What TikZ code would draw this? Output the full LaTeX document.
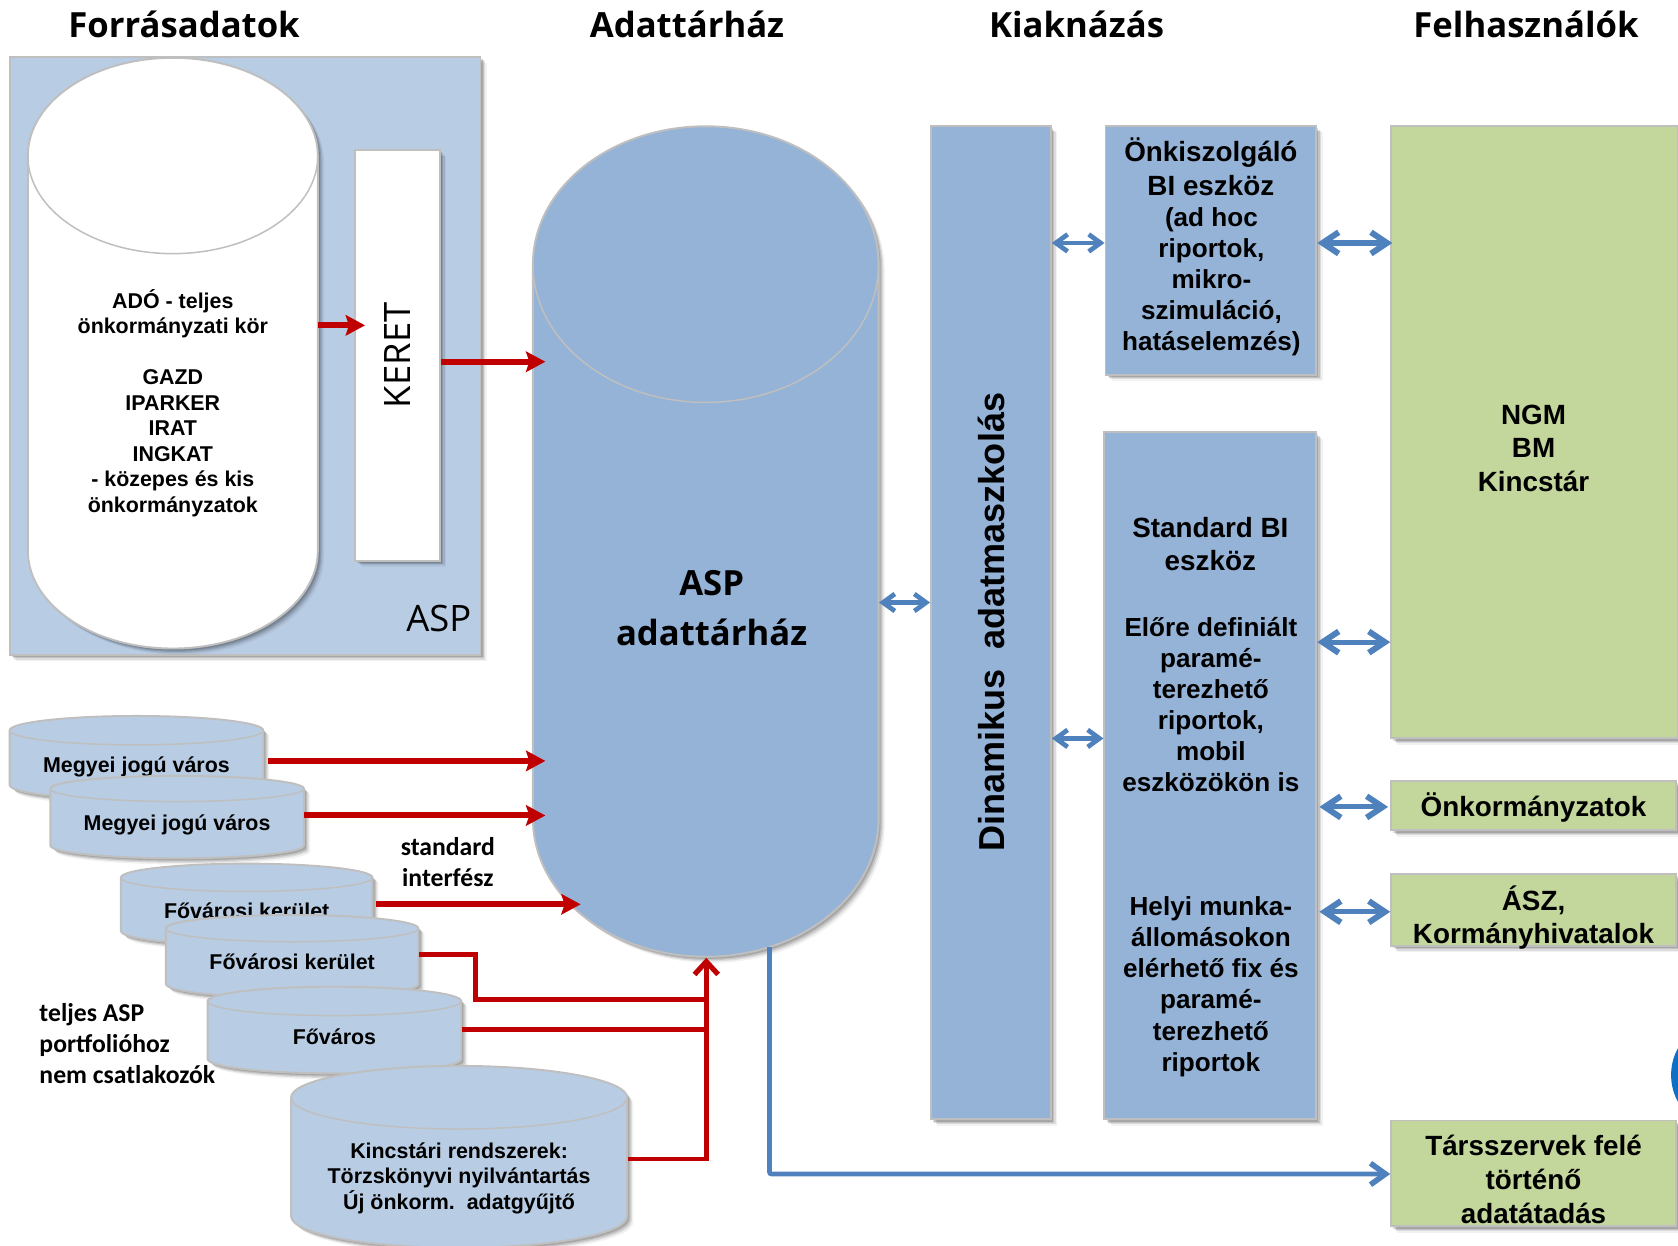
\documentclass[tikz,border=0pt]{standalone}
\usepackage{fontspec}
\setmainfont{Liberation Sans}
\newfontfamily\headfont{Open Sans}
\newfontfamily\calfont{Carlito}
\usetikzlibrary{arrows.meta,calc}
\definecolor{lightfill}{HTML}{B8CCE4}
\definecolor{midfill}{HTML}{95B3D7}
\definecolor{greenfill}{HTML}{C3D69B}
\definecolor{edgegray}{HTML}{BFBFBF}
\definecolor{redline}{HTML}{C00000}
\definecolor{blueline}{HTML}{4F81BD}
\definecolor{spotblue}{HTML}{0F6FC6}
\tikzset{
  softshadow/.style={
    preaction={draw=none,fill=black,opacity=.14,transform canvas={shift={(1pt,-1pt)}}},
    preaction={draw=none,fill=black,opacity=.12,transform canvas={shift={(1.6pt,-1.6pt)}}},
    preaction={draw=none,fill=black,opacity=.09,transform canvas={shift={(2.2pt,-2.2pt)}}},
    preaction={draw=none,fill=black,opacity=.05,transform canvas={shift={(2.9pt,-2.9pt)}}}},
  boxed/.style={draw=edgegray,line width=.9pt,softshadow,inner sep=0pt,align=center},
  lightbox/.style={boxed,fill=lightfill},
  midbox/.style={boxed,fill=midfill},
  greenbox/.style={boxed,fill=greenfill},
  whitebox/.style={boxed,fill=white},
  heading/.style={font=\headfont\fontsize{16.2}{19}\bfseries,inner sep=0pt},
  bodytext/.style={font=\fontsize{13}{16}\bfseries,align=center,inner sep=0pt},
  greentext/.style={font=\fontsize{13}{15.7}\bfseries,align=center,inner sep=0pt},
  reptext/.style={font=\fontsize{12.2}{14.5}\bfseries,align=center,inner sep=0pt},
  cyltext/.style={font=\fontsize{10}{11.9}\bfseries,align=center,inner sep=0pt},
  sidenote/.style={font=\calfont\fontsize{12}{14.5}\bfseries,align=left,inner sep=0pt},
  thintext/.style={font=\headfont\fontsize{17}{20}\selectfont,inner sep=0pt},
  redarrow/.style={draw=redline,line width=2.8pt,-{Stealth[inset=1.5pt,length=9pt,width=9.5pt]}},
  redjoin/.style={draw=redline,line width=2.2pt},
  redup/.style={draw=redline,line width=2.2pt,-{Straight Barb[length=6pt,width=11pt,line width=2.4pt]}},
  bluethin/.style={draw=blueline,line width=2pt,{Straight Barb[length=5.5pt,width=8pt,line width=2.2pt]}-{Straight Barb[length=5.5pt,width=8pt,line width=2.2pt]}},
  bluethick/.style={draw=blueline,line width=2.4pt,{Straight Barb[length=7.5pt,width=10pt,line width=2.8pt]}-{Straight Barb[length=7.5pt,width=10pt,line width=2.8pt]}},
  blueone/.style={draw=blueline,line width=2.2pt,-{Straight Barb[length=7pt,width=10pt,line width=2.6pt]},rounded corners=1pt},
}
% name, x1, x2, ytop, y ellipse bottom, ybot, fill, text y, text
\newcommand{\drumshape}[9]{%
  \pgfmathsetmacro{\drumXc}{(#2+#3)/2}%
  \pgfmathsetmacro{\drumRx}{(#3-#2)/2}%
  \pgfmathsetmacro{\drumRy}{(#5-#4)/2}%
  \pgfmathsetmacro{\drumYc}{#4+\drumRy}%
  \pgfmathsetmacro{\drumYb}{#6-\drumRy}%
  \pgfmathsetmacro{\drumKx}{.5523*\drumRx}%
  \pgfmathsetmacro{\drumKy}{.5523*\drumRy}%
  \pgfmathsetmacro{\drumWidth}{(#3-#2)*.5}%
  \path[draw=edgegray,line width=.9pt,fill=#7,softshadow]
    (#2,\drumYc) .. controls (#2,\drumYc-\drumKy) and (\drumXc-\drumKx,#4) .. (\drumXc,#4)
    .. controls (\drumXc+\drumKx,#4) and (#3,\drumYc-\drumKy) .. (#3,\drumYc)
    -- (#3,\drumYb) .. controls (#3,\drumYb+\drumKy) and (\drumXc+\drumKx,#6) .. (\drumXc,#6)
    .. controls (\drumXc-\drumKx,#6) and (#2,\drumYb+\drumKy) .. (#2,\drumYb) -- cycle;
  \path[draw=edgegray,line width=.7pt]
    (#2,\drumYc) .. controls (#2,\drumYc+\drumKy) and (\drumXc-\drumKx,#5) .. (\drumXc,#5)
    .. controls (\drumXc+\drumKx,#5) and (#3,\drumYc+\drumKy) .. (#3,\drumYc);
  \node[cyltext,minimum width=\drumWidth pt] (#1) at (\drumXc,#8) {#9};%
}
\begin{document}
\begin{tikzpicture}[x=.5pt,y=-.5pt]
\useasboundingbox (0,0) rectangle (1568,1164.2);
\clip (0,0) rectangle (1568,1164.2);

% headings
\node[heading] (h1) at (172,23) {Forrásadatok};
\node[heading] (h2) at (642,23) {Adattárház};
\node[heading] (h3) at (1006,23) {Kiaknázás};
\node[heading] (h4) at (1426,23) {Felhasználók};

% ASP group
\node[lightbox,minimum width=220pt,minimum height=279.5pt] (aspbox) at (229,332.5) {};
\node[thintext] (asplabel) at (410,578) {ASP};
\drumshape{srcdb}{26}{297}{54}{237}{606}{white}{376.5}{ADÓ - teljes\\önkormányzati kör\\[11.9pt]GAZD\\IPARKER\\IRAT\\INGKAT\\- közepes és kis\\önkormányzatok}
\node[whitebox,minimum width=39.5pt,minimum height=192pt] (keret) at (371.5,332) {};
\node[thintext,rotate=90] (kerettext) at (371.5,332) {KERET};

% big cylinder
\drumshape{dwh}{498}{821}{118}{376}{894}{midfill}{568}{}
\node[heading,align=center,font=\headfont\fontsize{16.2}{23.5}\bfseries] (dwhtext) at (665,568) {ASP\\adattárház};

% source drums
\drumshape{m1}{9}{246}{669}{696}{747}{lightfill}{717}{Megyei jogú város}
\drumshape{m2}{47}{284}{725}{749}{802}{lightfill}{771}{Megyei jogú város}
\drumshape{f1}{113}{348}{807}{833}{883}{lightfill}{851}{Fővárosi kerület}
\drumshape{f2}{155}{391}{855}{880}{932}{lightfill}{899}{Fővárosi kerület}
\drumshape{fv}{194}{431}{922}{949}{1003}{lightfill}{969}{Főváros}
\drumshape{kr}{272}{586}{996}{1055}{1166}{lightfill}{1101}{Kincstári rendszerek:\\Törzskönyvi nyilvántartás\\Új önkorm.\ \ adatgyűjtő}

\node[sidenote,align=center] (stdnote) at (418.5,805.5) {standard\\interfész};
\node[sidenote,anchor=west] (nonote) at (36.5,975) {teljes ASP\\portfolióhoz\\nem csatlakozók};

% middle column
\node[midbox,minimum width=56pt,minimum height=464pt] (mask) at (926,582) {};
\node[font=\fontsize{16.85}{20}\bfseries,rotate=90,inner sep=0pt] (masktext) at (926,581.5) {Dinamikus\ \ adatmaszkolás};

\node[midbox,minimum width=98.5pt,minimum height=116pt] (self) at (1131.5,234) {};
\node[bodytext] (selftextA) at (1131.5,155.5) {Önkiszolgáló\\BI eszköz};
\node[reptext] (selftextB) at (1132,263) {(ad hoc\\riportok,\\mikro-\\szimuláció,\\hatáselemzés)};

\node[midbox,minimum width=99pt,minimum height=321pt] (std) at (1131,725) {};
\node[bodytext,font=\fontsize{13}{15.5}\bfseries] (stdA) at (1131,508.5) {Standard BI\\eszköz};
\node[reptext] (stdB) at (1131.5,658.5) {Előre definiált\\paramé-\\terezhető\\riportok,\\mobil\\eszközökön is};
\node[reptext] (stdC) at (1131.5,922) {Helyi munka-\\állomásokon\\elérhető fix és\\paramé-\\terezhető\\riportok};

% users
\node[greenbox,minimum width=134pt,minimum height=286pt] (ngm) at (1434,404) {};
\node[bodytext,font=\fontsize{13}{15.5}\bfseries] (ngmtext) at (1433,419) {NGM\\BM\\Kincstár};
\node[greenbox,minimum width=133pt,minimum height=23pt] (onk) at (1433,753) {};
\node[greentext] (onktext) at (1433,755) {Önkormányzatok};
\node[greenbox,minimum width=133pt,minimum height=33.5pt] (asz) at (1433,850.5) {};
\node[greentext] (asztext) at (1433,857.5) {ÁSZ,\\Kormányhivatalok};
\node[greenbox,minimum width=133pt,minimum height=49.5pt] (tars) at (1433,1096.5) {};
\node[greentext] (tarstext) at (1433,1102) {Társszervek felé\\történő\\adatátadás};
\fill[spotblue] (1613.5,1004.5) circle[radius=26pt];

% red connectors
\draw[redarrow] (srcdb.east |- 0,304) -- ([xshift=5pt]keret.west |- 0,304);
\draw[redarrow] (keret.east |- 0,338) -- ([xshift=6pt]dwh.west |- 0,338);
\draw[redarrow] ([xshift=2pt]m1.east |- 0,711) -- ([xshift=6pt]dwh.west |- 0,711);
\draw[redarrow] (m2.east |- 0,762) -- ([xshift=6pt]dwh.west |- 0,762);
\draw[redarrow] ([xshift=1.5pt]f1.east |- 0,845) -- ([xshift=22.5pt]dwh.west |- 0,845);
\coordinate (dwhbottom) at (660,895);
\draw[redjoin] (f2.east |- 0,892) -| (444,934) -- (dwhbottom |- 0,934);
\draw[redjoin] (fv.east |- 0,962) -- (dwhbottom |- 0,962);
\draw[redup] (kr.east |- 0,1083) -| (dwhbottom);

% blue connectors
\draw[bluethin] (mask.east |- 0,227) -- (self.west |- 0,227);
\draw[bluethick] (self.east |- 0,227) -- ([xshift=1pt]ngm.west |- 0,227);
\draw[bluethin] (dwh.east |- 0,563) -- (mask.west |- 0,563);
\draw[bluethin] (mask.east |- 0,690) -- (std.west |- 0,690);
\draw[bluethick] (std.east |- 0,600) -- (ngm.west |- 0,600);
\draw[bluethick] ([xshift=1pt]std.east |- 0,754) -- ([xshift=-1pt]onk.west |- 0,754);
\draw[bluethick] ([xshift=1pt]std.east |- 0,852) -- (asz.west |- 0,852);
\coordinate (dwhout) at (719,885);
\draw[blueone] (dwhout) |- (tars.west |- 0,1097);
\end{tikzpicture}
\end{document}
